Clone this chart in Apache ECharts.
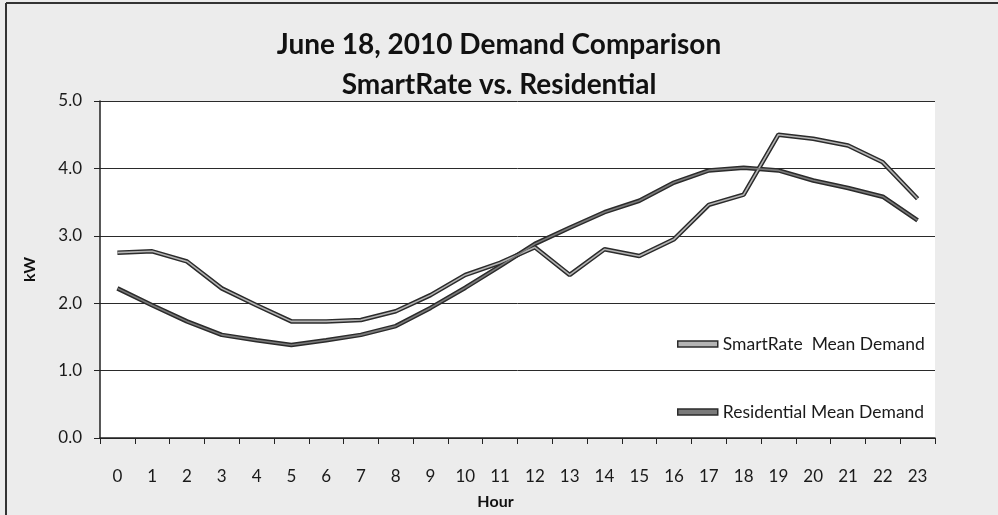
<!DOCTYPE html>
<html>
<head>
<meta charset="utf-8">
<title>June 18, 2010 Demand Comparison</title>
<script src="https://cdn.jsdelivr.net/npm/echarts@6/dist/echarts.min.js"></script>
<style>
  html, body { margin: 0; padding: 0; background: #ececec; }
  #chart { width: 998px; height: 515px; }
</style>
</head>
<body>
<div id="chart"></div>
<script>
// hours of the day
var hours = ['0', '1', '2', '3', '4', '5', '6', '7', '8', '9', '10', '11',
  '12', '13', '14', '15', '16', '17', '18', '19', '20', '21', '22', '23']
// kW
var smartRate = [2.75, 2.77, 2.62, 2.22, 1.97, 1.73, 1.73, 1.75, 1.88, 2.12, 2.42, 2.60,
  2.83, 2.42, 2.80, 2.70, 2.95, 3.46, 3.61, 4.50, 4.44, 4.34, 4.09, 3.55]
var residential = [2.22, 1.97, 1.73, 1.53, 1.45, 1.38, 1.45, 1.53, 1.66, 1.93, 2.23, 2.55,
  2.88, 3.12, 3.35, 3.52, 3.79, 3.97, 4.01, 3.97, 3.82, 3.71, 3.58, 3.23]
var yTicks = [0, 1, 2, 3, 4, 5]

var FONT = 'Lato'

var chart = echarts.init(document.getElementById('chart'))

// the scan draws each line as a dark outline with a lighter core,
// so each series is drawn twice: a wide dark one, then a thin light one on top
function outline(name, data) {
  return {
    name: name,
    type: 'line',
    data: data,
    symbol: 'none',
    silent: true,
    z: 2,
    lineStyle: { color: '#2b2b2b', width: 4.5 }
  }
}
function core(name, data, color) {
  return {
    name: name,
    type: 'line',
    data: data,
    symbol: 'none',
    z: 3,
    itemStyle: { color: color },
    lineStyle: { color: color, width: 1.6 }
  }
}

var option = {
  backgroundColor: '#ececec',
  animation: false,
  title: {
    text: 'June 18, 2010 Demand Comparison\nSmartRate vs. Residential',
    left: 'center',
    top: 20,
    textStyle: {
      fontFamily: FONT,
      fontWeight: 'bold',
      fontSize: 28,
      lineHeight: 40,
      color: '#111'
    }
  },
  grid: {
    left: 100,
    right: 63,
    top: 101,
    bottom: 75,
    show: true,
    backgroundColor: '#ffffff',
    borderWidth: 0
  },
  legend: {
    orient: 'vertical',
    left: 672,
    top: 330,
    itemGap: 50,
    itemWidth: 40,
    itemHeight: 6,
    icon: 'rect',
    itemStyle: { borderColor: '#2b2b2b', borderWidth: 1.5 },
    data: ['SmartRate  Mean Demand', 'Residential Mean Demand'],
    textStyle: { fontFamily: FONT, fontSize: 17.5, color: '#1a1a1a' }
  },
  xAxis: {
    type: 'category',
    data: hours,
    boundaryGap: true,
    name: 'Hour',
    nameLocation: 'middle',
    nameGap: 56,
    nameTextStyle: {
      fontFamily: FONT, fontWeight: 'bold', fontSize: 16, color: '#111',
      padding: [0, 44, 0, 0]
    },
    axisLine: { lineStyle: { color: '#222', width: 1.5 } },
    axisTick: { show: true, alignWithLabel: false, length: 6, lineStyle: { color: '#222' } },
    axisLabel: {
      fontFamily: FONT, fontSize: 17, color: '#1a1a1a', margin: 30, interval: 0
    },
    splitLine: { show: false }
  },
  yAxis: {
    type: 'value',
    min: yTicks[0],
    max: yTicks[yTicks.length - 1],
    interval: 1,
    name: 'kW',
    nameLocation: 'middle',
    nameGap: 62,
    nameRotate: 90,
    nameTextStyle: {
      fontFamily: FONT, fontWeight: 'bold', fontSize: 16, color: '#111',
      padding: [0, 0, 0, 0]
    },
    axisLine: { show: true, lineStyle: { color: '#222', width: 1.5 } },
    axisTick: { show: true, length: 6, lineStyle: { color: '#222' } },
    axisLabel: {
      fontFamily: FONT, fontSize: 17, color: '#1a1a1a', margin: 18,
      formatter: function (v) { return v.toFixed(1) }
    },
    splitLine: { show: true, lineStyle: { color: '#2a2a2a', width: 1 } }
  },
  series: [
    outline('smartOutline', smartRate),
    outline('resOutline', residential),
    core('SmartRate  Mean Demand', smartRate, '#b4b4b4'),
    core('Residential Mean Demand', residential, '#7a7a7a')
  ],
  graphic: [
    // frame of the scanned chart (left and top edges)
    { type: 'line', shape: { x1: 6, y1: 3, x2: 998, y2: 3 }, style: { stroke: '#333', lineWidth: 2 } },
    { type: 'line', shape: { x1: 6, y1: 3, x2: 6, y2: 515 }, style: { stroke: '#333', lineWidth: 2 } }
  ]
}

chart.setOption(option)
</script>
</body>
</html>
